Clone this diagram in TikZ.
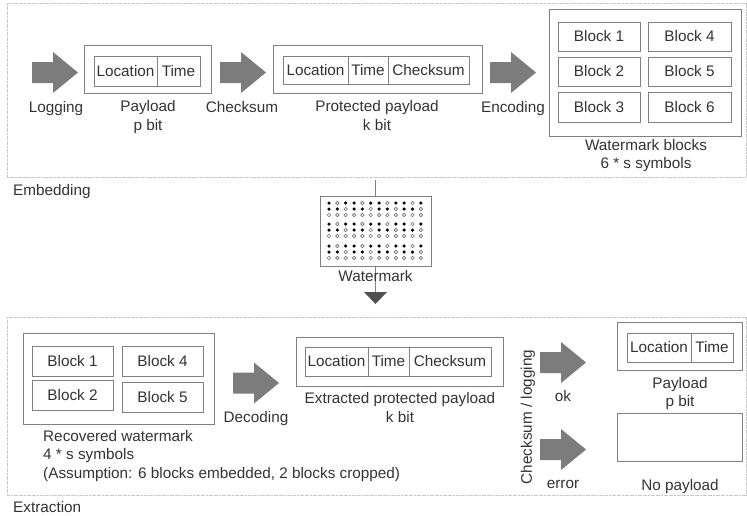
\documentclass[tikz,border=0pt]{standalone}
\usepackage{fontspec}
\setmainfont{Liberation Sans}
\definecolor{txt}{HTML}{333333}
\definecolor{ln}{HTML}{808080}
\definecolor{panel}{HTML}{C8C8C8}
\definecolor{afill}{HTML}{7C7C7C}
\definecolor{tri}{HTML}{505050}
\tikzset{
  every node/.style={text=txt, font=\fontsize{15.3}{18}\selectfont},
  boxx/.style={draw=ln, line width=0.8pt, fill=white, anchor=north west, inner sep=0pt, outer sep=0pt},
  panelbox/.style={draw=panel, line width=0.8pt, dash pattern=on 2pt off 0.6pt},
  lbl/.style={inner sep=0pt, anchor=base, yshift=-5.5pt},
  lbll/.style={inner sep=0pt, anchor=base west, yshift=-5.5pt},
  blockarrow/.pic={\fill[afill] (0,-10.5) -- (21,-10.5) -- (21,-20.5) -- (46,0) -- (21,20.5) -- (21,10.5) -- (0,10.5) -- cycle;}
}
\newcommand{\bx}[6]{\node[boxx, minimum width=#4-#2, minimum height=#5-#3] (#1) at (#2,#3) {#6};}
\begin{document}
\begin{tikzpicture}[x=1pt,y=-1pt]
\useasboundingbox (0,0) rectangle (747,515);
% panels
\draw[panelbox] (7,3) rectangle (746,177);
\draw[panelbox] (7,317) rectangle (746,495);
\node[lbll] (emb) at (13,190) {Embedding};
\node[lbll] (ext) at (13,507) {Extraction};

% ---- Embedding row
\pic (a1) at (32,72.5) {blockarrow};
\node[lbl] (logging) at (56,107) {Logging};
\bx{pay}{84}{45}{211}{93}{}
\bx{payloc}{94}{56}{157}{86}{Location}
\bx{paytime}{157}{56}{200}{86}{Time}
\node[lbl] (payl1) at (148,106) {Payload};
\node[lbl] (payl2) at (148,125) {p bit};

\pic (a2) at (220,72.5) {blockarrow};
\node[lbl] (chk) at (242,107) {Checksum};
\bx{prot}{273}{45}{482}{93}{}
\bx{protloc}{283}{56}{348}{84}{Location}
\bx{prottime}{348}{56}{388}{84}{Time}
\bx{protchk}{388}{56}{469}{84}{Checksum}
\node[lbl] (protl1) at (377,106) {Protected payload};
\node[lbl] (protl2) at (377,125) {k bit};

\pic (a3) at (490,72.5) {blockarrow};
\node[lbl] (enc) at (513,107) {Encoding};
\bx{wmb}{549}{9}{741}{136}{}
\bx{b1}{558}{22}{640}{51}{Block 1}
\bx{b4}{648}{22}{731}{51}{Block 4}
\bx{b2}{558}{57}{640}{86}{Block 2}
\bx{b5}{648}{57}{731}{86}{Block 5}
\bx{b3}{558}{92}{640}{122}{Block 3}
\bx{b6}{648}{92}{731}{122}{Block 6}
\node[lbl] (wmbl1) at (646,145) {Watermark blocks};
\node[lbl] (wmbl2) at (646,163) {6 * s symbols};

% ---- Watermark
\coordinate (wtop) at (375.5,180);
\coordinate (wbot) at (375.5,293);
\draw[ln, line width=0.8pt] (wtop) -- (wbot);
\bx{wm}{320}{196}{431}{266}{}
% row code: 1 = open at i mod 3 = 1; 2 = open at i mod 3 = 2; 0 = all open
\foreach \ry/\pat in {203/1,209/2,215/0,224/1,230/2,236/0,246/1,252/2,258/0}{
  \foreach \i in {0,...,11}{
    \pgfmathsetmacro{\cx}{329+\i*8.35}
    \pgfmathtruncatemacro{\m}{mod(\i,3)}
    \pgfmathtruncatemacro{\filled}{(\pat>0) && (\m!=\pat) ? 1 : 0}
    \ifnum\filled=1
      \fill[black] (\cx,\ry) circle (1.75);
    \else
      \draw[black!55, line width=0.65pt] (\cx,\ry) circle (1.75);
    \fi
  }
}
\node[lbl] (wml) at (375.5,276) {Watermark};
\fill[tri] (364,292) -- (387,292) -- (375.5,304) -- cycle;

% ---- Extraction row
\bx{rec}{23}{333}{214}{424}{}
\bx{r1}{32}{346}{113}{376}{Block 1}
\bx{r4}{122}{346}{203}{376}{Block 4}
\bx{r2}{32}{380}{113}{410}{Block 2}
\bx{r5}{122}{382}{203}{412}{Block 5}
\node[lbll] (recl1) at (43,436) {Recovered watermark};
\node[lbll] (recl2) at (43,454) {4 * s symbols};
\node[lbll] (recl3) at (43,473) {(Assumption: 6 blocks embedded, 2 blocks cropped)};

\pic (a4) at (233,383) {blockarrow};
\node[lbl] (dec) at (256,417) {Decoding};
\bx{xp}{296}{337}{503}{386}{}
\bx{xploc}{305}{347}{368}{376}{Location}
\bx{xptime}{368}{347}{409}{376}{Time}
\bx{xpchk}{409}{347}{491}{376}{Checksum}
\node[lbl] (xpl1) at (400,398) {Extracted protected payload};
\node[lbl] (xpl2) at (400,417) {k bit};

\node[inner sep=0pt, rotate=90] (cl) at (528,417) {Checksum / logging};
\pic (a5) at (540,362.5) {blockarrow};
\node[lbl] (ok) at (563,396) {ok};
\pic (a6) at (540,449.5) {blockarrow};
\node[lbl] (err) at (563,483) {error};

\bx{op}{617}{322}{742}{370}{}
\bx{oploc}{627}{333}{691}{362}{Location}
\bx{optime}{691}{333}{733}{362}{Time}
\node[lbl] (opl1) at (680,383) {Payload};
\node[lbl] (opl2) at (680,401) {p bit};
\bx{np}{617}{413}{742}{461}{}
\node[lbl] (npl) at (680,485) {No payload};
\end{tikzpicture}
\end{document}
